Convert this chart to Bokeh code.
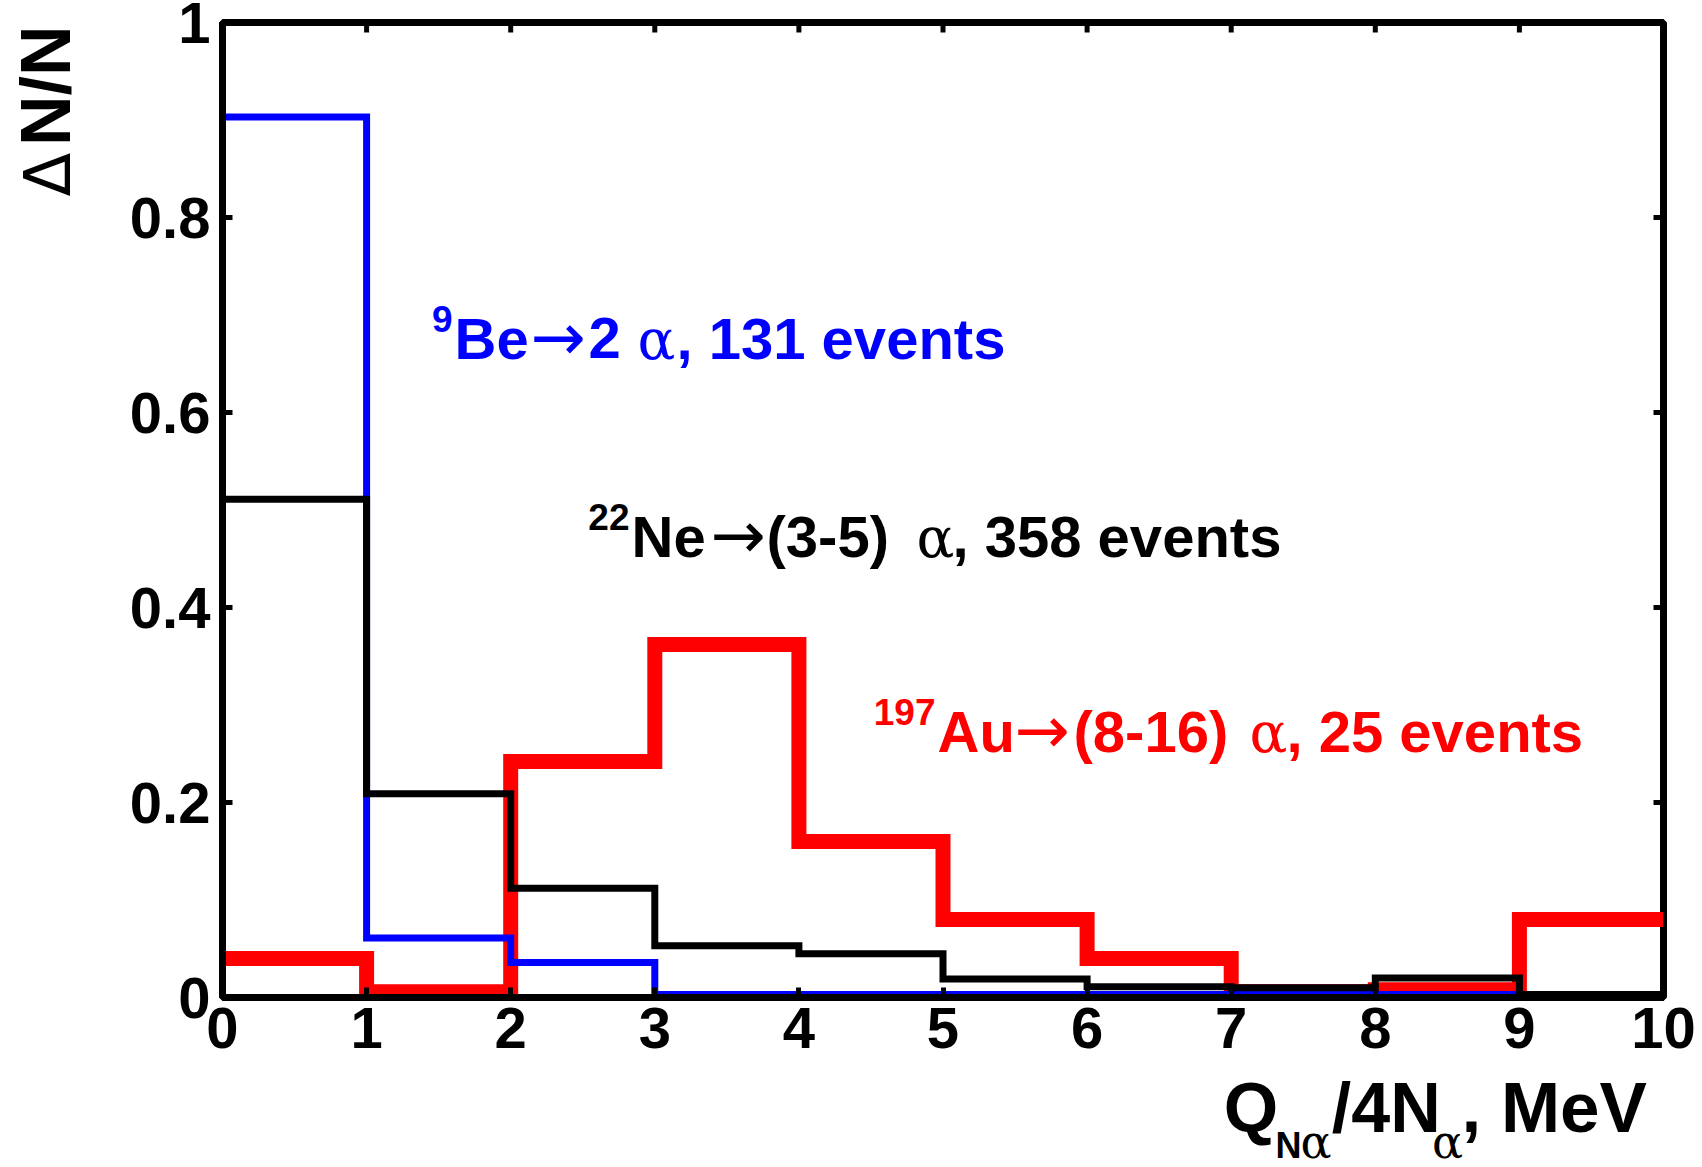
import math

from bokeh.plotting import figure
from bokeh.layouts import row, column
from bokeh.models import Range1d, FixedTicker
from bokeh.core.properties import value
from bokeh.embed import file_html
from bokeh.resources import INLINE

# Histogram bins of Q_Na / 4N_a (MeV) and normalised counts dN/N per bin
bin_edges = [0, 1, 2, 3, 4, 5, 6, 7, 8, 9, 10]
be9_frac = [0.903, 0.061, 0.036, 0.003, 0.003, 0.003, 0.003, 0.003, 0.003, 0.003]
ne22_frac = [0.511, 0.209, 0.112, 0.053, 0.045, 0.019, 0.011, 0.010, 0.020, 0.003]
au197_frac = [0.040, 0.006, 0.242, 0.362, 0.160, 0.080, 0.040, 0.006, 0.008, 0.080]

x_ticks = [0, 1, 2, 3, 4, 5, 6, 7, 8, 9, 10]
x_tick_labels = ["0", "1", "2", "3", "4", "5", "6", "7", "8", "9", "10"]
y_ticks = [0, 0.2, 0.4, 0.6, 0.8, 1]
y_tick_labels = ["0", "0.2", "0.4", "0.6", "0.8", "1"]

# ---------------------------------------------------------------- layout
W, H = 1702, 1167
YLAB_W = 90                      # strip holding the vertical axis title
FL, FR, FT, FB = 222, 1663, 22, 997   # frame edges on the page (px)
MAIN_H = 1076                    # height of the histogram figure
X_MIN, X_MAX, Y_MIN, Y_MAX = 0, 10, 0, 1

SANS = "Liberation Sans"
ARROW_FONT = "DejaVu Sans"
GREEK = "DejaVu Serif"
BLUE, RED, BLACK = "#0000FF", "#FF0000", "#000000"
MID = 0.346                      # line-box middle above the baseline, in em


def cx(px):
    return X_MIN + (px - FL) / (FR - FL) * (X_MAX - X_MIN)


def cy(py):
    return Y_MIN + (FB - py) / (FB - FT) * (Y_MAX - Y_MIN)


p = figure(
    frame_width=FR - FL, frame_height=FB - FT,
    x_range=Range1d(X_MIN, X_MAX), y_range=Range1d(Y_MIN, Y_MAX),
    output_backend="svg", toolbar_location=None,
    min_border_left=FL - YLAB_W, min_border_right=W - FR,
    min_border_top=FT, min_border_bottom=MAIN_H - FB,
    background_fill_color="white", border_fill_color="white",
)
p.grid.visible = False
p.outline_line_color = BLACK
p.outline_line_width = 7


def style_axis(ax, ticks, labels):
    ax.ticker = FixedTicker(ticks=ticks)
    ax.major_label_overrides = {t: s for t, s in zip(ticks, labels)}
    ax.axis_line_width = 7
    ax.axis_line_color = BLACK
    ax.major_tick_line_width = 5
    ax.major_tick_line_color = BLACK
    ax.major_tick_in = 10
    ax.major_tick_out = 0
    ax.minor_tick_line_color = None
    ax.major_label_text_font = SANS
    ax.major_label_text_font_style = "bold"
    ax.major_label_text_font_size = "58px"
    ax.major_label_text_color = BLACK


style_axis(p.xaxis[0], x_ticks, x_tick_labels)
p.xaxis[0].major_label_standoff = 10
style_axis(p.yaxis[0], y_ticks, y_tick_labels)
p.yaxis[0].major_label_standoff = 12

# mirrored inward ticks on the top and right edges of the frame
tick_dy = 10 / (FB - FT) * (Y_MAX - Y_MIN)
tick_dx = 10 / (FR - FL) * (X_MAX - X_MIN)
p.segment(x0=x_ticks, y0=[Y_MAX] * len(x_ticks),
          x1=x_ticks, y1=[Y_MAX - tick_dy] * len(x_ticks),
          line_color=BLACK, line_width=5)
p.segment(x0=[X_MAX] * len(y_ticks), y0=y_ticks,
          x1=[X_MAX - tick_dx] * len(y_ticks), y1=y_ticks,
          line_color=BLACK, line_width=5)


def step_values(vals):
    return list(vals) + [vals[-1]]


p.step(bin_edges, step_values(au197_frac), mode="after",
       line_color=RED, line_width=15, line_join="miter")
p.step(bin_edges, step_values(be9_frac), mode="after",
       line_color=BLUE, line_width=7, line_join="miter")
p.step(bin_edges, step_values(ne22_frac), mode="after",
       line_color=BLACK, line_width=7, line_join="miter")


def put(fig, x, y, text, size, color, font=SANS, style="bold",
        align="left", angle=0.0):
    fig.text(x=[x], y=[y], text=[text], angle=angle,
             text_font=value(font), text_font_style=style,
             text_font_size=f"{size}px", text_color=color,
             text_align=align, text_baseline="middle")


def put_main(px, base, text, size, color, **kw):
    put(p, cx(px), cy(base - MID * size), text, size, color, **kw)


def isotope_label(color, base, mass_right, pieces):
    put_main(mass_right, base - 27, pieces[0], 37, color, align="right")
    be, arrow_x, mid_x, mid_txt, alpha_x, tail_x, tail_txt = pieces[1:]
    put_main(be[0], base, be[1], 58, color)
    put_main(arrow_x, base + 2, "\u2192", 66, color, font=ARROW_FONT,
             style="normal")
    put_main(mid_x, base, mid_txt, 58, color)
    put_main(alpha_x, base, "\u03b1", 56, color, font=GREEK, style="normal")
    put_main(tail_x, base, tail_txt, 58, color)


isotope_label(BLUE, 358, 452,
              ["9", (454, "Be"), 530, 588, "2", 637, 676, ", 131 events"])
isotope_label(BLACK, 556, 629,
              ["22", (631, "Ne"), 710, 766, "(3-5)", 916, 952, ", 358 events"])
isotope_label(RED, 751, 935,
              ["197", (937, "Au"), 1014, 1073, "(8-16)", 1249, 1286,
               ", 25 events"])


def text_strip(width, height, x0, top):
    f = figure(width=width, height=height,
               x_range=Range1d(x0, x0 + width),
               y_range=Range1d(H - top - height, H - top),
               output_backend="svg", toolbar_location=None,
               x_axis_type=None, y_axis_type=None,
               min_border=0, min_border_left=0, min_border_right=0,
               min_border_top=0, min_border_bottom=0,
               outline_line_color=None,
               background_fill_color="white", border_fill_color="white")
    f.grid.visible = False
    return f


# vertical axis title, reading upwards
ylab = text_strip(YLAB_W, H, 0, 0)
YT_BASE_X = 70
put(ylab, YT_BASE_X - MID * 64, H - 196, "\u0394", 64, BLACK,
    font="DejaVu Sans", style="normal", align="left", angle=math.pi / 2)
put(ylab, YT_BASE_X - MID * 70, H - 25, "N/N", 70, BLACK,
    align="right", angle=math.pi / 2)

# horizontal axis title with subscripts
xlab = text_strip(W - YLAB_W, H - MAIN_H, YLAB_W, MAIN_H)
XT_BASE, XT_SUB = 1132, 1157


def put_x(px, base, text, size, **kw):
    put(xlab, px, H - (base - MID * size), text, size, BLACK, **kw)


put_x(1210, XT_BASE, "Q", 70)
put_x(1268, XT_SUB, "N", 36)
put_x(1296, XT_SUB, "\u03b1", 46, font=GREEK, style="normal")
put_x(1331, XT_BASE, "/4N", 70)
put_x(1443, XT_SUB, "\u03b1", 46, font=GREEK, style="normal")
put_x(1476, XT_BASE, ", MeV", 71)

layout = row(ylab, column(p, xlab, spacing=0), spacing=0)
open("out.html", "w").write(file_html(layout, INLINE))
